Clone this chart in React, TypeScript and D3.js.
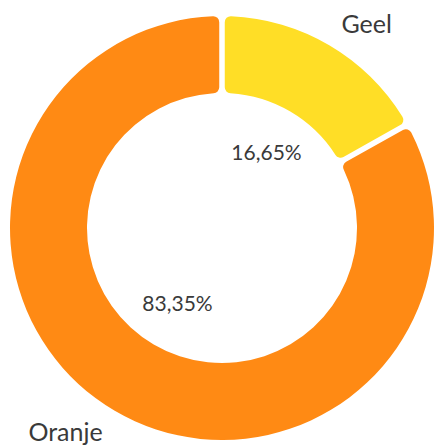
import React from "react";
import * as d3 from "d3";

const categories = ["Geel", "Oranje"];
const values = [16.65, 83.35];
const valueLabels = ["16,65%", "83,35%"];
const colors = ["#FFDE26", "#FF8A14"];

const W = 435;
const H = 447;
const cx = 222;
const cy = 228;
const outerR = 212;
const innerR = 135;

export default function App() {
  const pie = d3.pie<number>().sort(null).padAngle(0.022)(values);
  const arc = d3
    .arc<d3.PieArcDatum<number>>()
    .innerRadius(innerR)
    .outerRadius(outerR)
    .cornerRadius(6);
  const font = "Lato, 'Noto Sans', sans-serif";
  return (
    <svg
      width={W}
      height={H}
      style={{ position: "absolute", left: 0, top: 0, background: "#fff" }}
    >
      <g transform={`translate(${cx},${cy})`}>
        {pie.map((d, i) => (
          <path key={categories[i]} d={arc(d) || ""} fill={colors[i]} />
        ))}
        {pie.map((d, i) => {
          const a = (d.startAngle + d.endAngle) / 2;
          const r = 88;
          return (
            <text
              key={"v" + i}
              x={Math.sin(a) * r}
              y={-Math.cos(a) * r}
              dy="0.36em"
              textAnchor="middle"
              fontFamily={font}
              fontSize={21}
              fill="#3a3a3a"
            >
              {valueLabels[i]}
            </text>
          );
        })}
        {pie.map((d, i) => {
          const a = (d.startAngle + d.endAngle) / 2;
          const r = 236;
          const x = Math.sin(a) * r;
          return (
            <text
              key={"c" + i}
              x={x}
              y={-Math.cos(a) * r}
              dy="0.36em"
              textAnchor={x >= 0 ? "start" : "end"}
              fontFamily={font}
              fontSize={25}
              fill="#3a3a3a"
            >
              {categories[i]}
            </text>
          );
        })}
      </g>
    </svg>
  );
}
